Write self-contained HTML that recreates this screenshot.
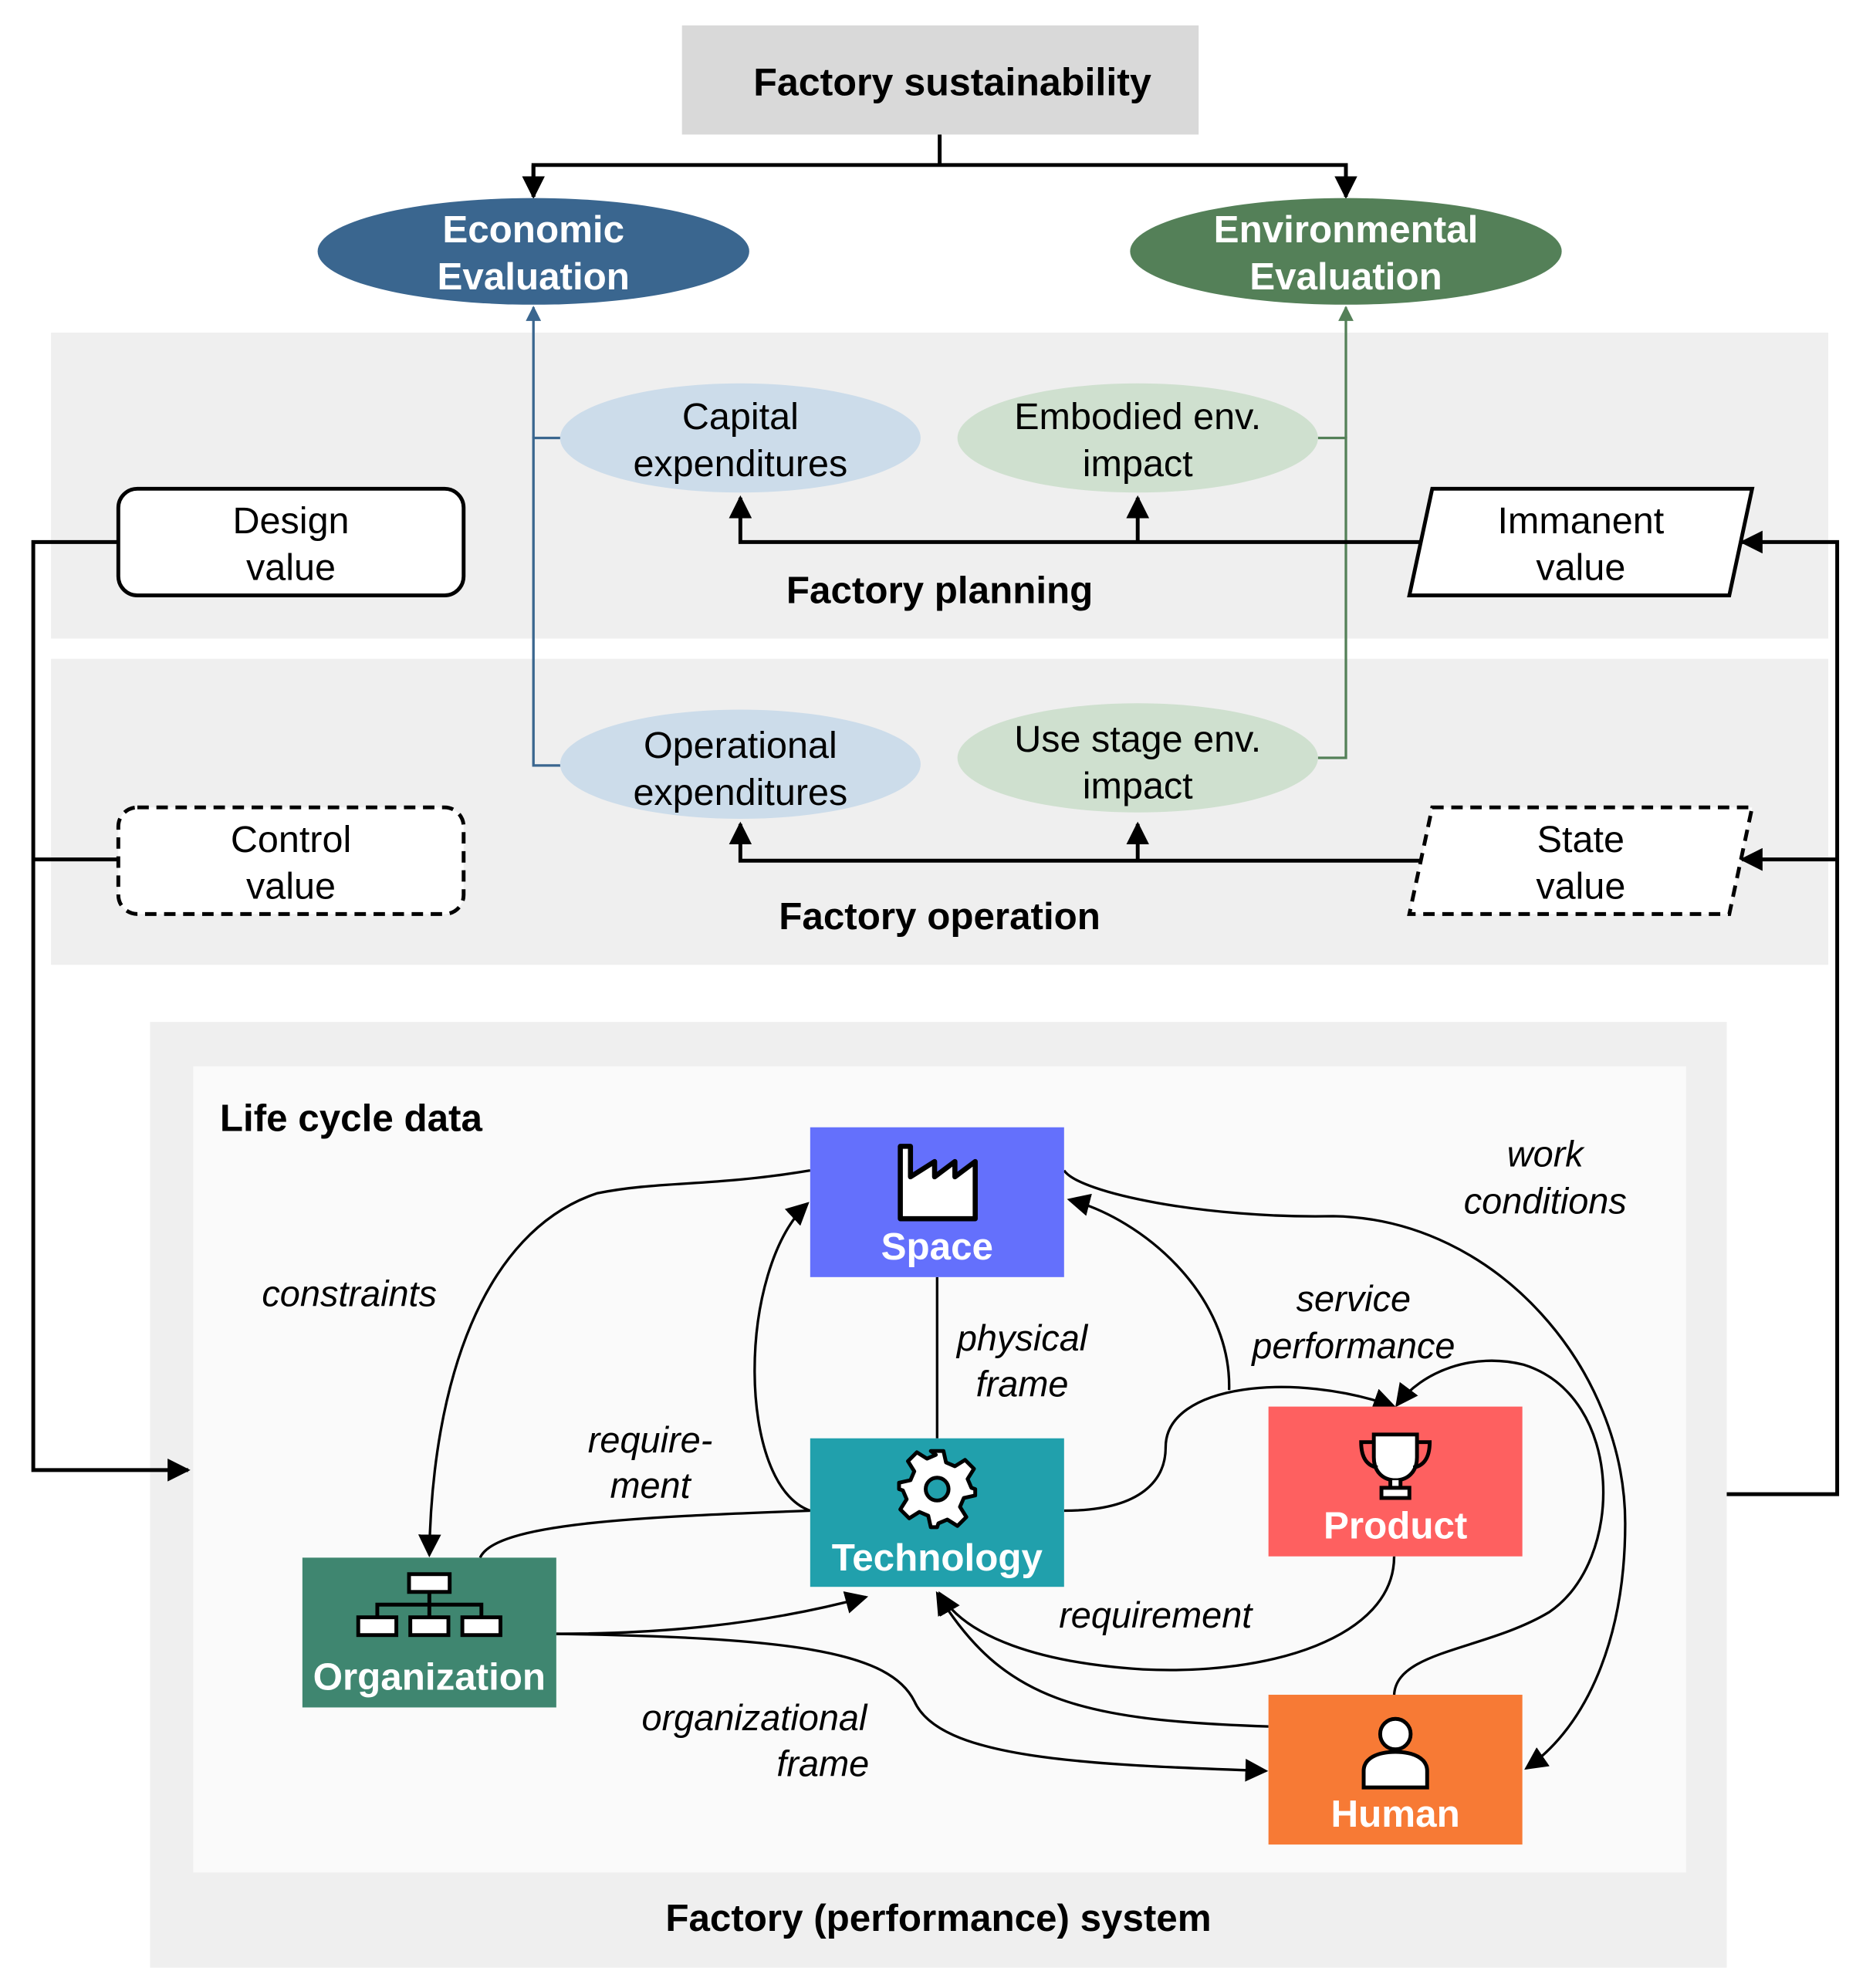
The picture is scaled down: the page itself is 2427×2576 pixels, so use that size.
<!DOCTYPE html>
<html><head><meta charset="utf-8"><style>html,body{margin:0;padding:0;background:#fff}svg{display:block}</style></head>
<body>
<svg width="2427" height="2576" viewBox="0 0 1475 1566" xmlns="http://www.w3.org/2000/svg" font-family="Liberation Sans, sans-serif">
<defs>
<marker id="a" viewBox="0 0 10 10" refX="9" refY="5" markerWidth="6" markerHeight="6" orient="auto-start-reverse"><path d="M0,0L10,5L0,10z" fill="#000"/></marker>
<marker id="ab" viewBox="0 0 10 10" refX="9" refY="5" markerWidth="6" markerHeight="6" orient="auto-start-reverse"><path d="M0,0L10,5L0,10z" fill="#3a668f"/></marker>
<marker id="ag" viewBox="0 0 10 10" refX="9" refY="5" markerWidth="6" markerHeight="6" orient="auto-start-reverse"><path d="M0,0L10,5L0,10z" fill="#548058"/></marker>
<marker id="s" viewBox="0 0 10 10" refX="9" refY="5" markerWidth="9" markerHeight="9" orient="auto-start-reverse"><path d="M0,0L10,5L0,10z" fill="#000"/></marker>
</defs>
<rect width="1475" height="1566" fill="#fff"/>
<rect x="40" y="262" width="1400" height="241" fill="#efefef"/>
<rect x="40" y="519" width="1400" height="241" fill="#efefef"/>
<rect x="118" y="805" width="1242" height="745" fill="#efefef"/>
<rect x="152" y="840" width="1176" height="635" fill="#fafafa"/>
<rect x="537" y="20" width="407" height="86" fill="#d9d9d9"/>
<text x="750" y="75" font-size="30.5" font-weight="bold" text-anchor="middle">Factory sustainability</text>
<path d="M740,106V130H420V155M740,130H1060V155" fill="none" stroke="#000" stroke-width="3" marker-end="url(#a)"/>
<path d="M420,130V155" stroke="#000" stroke-width="3" marker-end="url(#a)"/>
<ellipse cx="420" cy="198" rx="170" ry="42" fill="#3a668f"/>
<ellipse cx="1060" cy="198" rx="170" ry="42" fill="#548058"/>
<g fill="#fff" font-size="30" font-weight="bold" text-anchor="middle">
<text x="420" y="191">Economic</text><text x="420" y="228">Evaluation</text>
<text x="1060" y="191">Environmental</text><text x="1060" y="228">Evaluation</text>
</g>
<path d="M442,345H420V603H442" fill="none" stroke="#3a668f" stroke-width="2"/>
<path d="M420,345V242" stroke="#3a668f" stroke-width="2" marker-end="url(#ab)"/>
<path d="M1038,345H1060V597H1038" fill="none" stroke="#548058" stroke-width="2"/>
<path d="M1060,345V242" stroke="#548058" stroke-width="2" marker-end="url(#ag)"/>
<ellipse cx="583" cy="345" rx="142" ry="43" fill="#ccdcea"/>
<ellipse cx="896" cy="345" rx="142" ry="43" fill="#cfe0cf"/>
<ellipse cx="583" cy="602" rx="142" ry="43" fill="#ccdcea"/>
<ellipse cx="896" cy="597" rx="142" ry="43" fill="#cfe0cf"/>
<g font-size="29.5" text-anchor="middle">
<text x="583" y="338">Capital</text><text x="583" y="375">expenditures</text>
<text x="896" y="338">Embodied env.</text><text x="896" y="375">impact</text>
<text x="583" y="597">Operational</text><text x="583" y="634">expenditures</text>
<text x="896" y="592">Use stage env.</text><text x="896" y="629">impact</text>
</g>
<rect x="93" y="385" width="272" height="84" rx="15" fill="#fff" stroke="#000" stroke-width="3"/>
<rect x="93" y="636" width="272" height="84" rx="15" fill="#fff" stroke="#000" stroke-width="3" stroke-dasharray="9,6"/>
<polygon points="1128,385 1380,385 1362,469 1110,469" fill="#fff" stroke="#000" stroke-width="3"/>
<polygon points="1128,636 1380,636 1362,720 1110,720" fill="#fff" stroke="#000" stroke-width="3" stroke-dasharray="9,6"/>
<g font-size="29.5" text-anchor="middle">
<text x="229" y="420">Design</text><text x="229" y="457">value</text>
<text x="229" y="671">Control</text><text x="229" y="708">value</text>
<text x="1245" y="420">Immanent</text><text x="1245" y="457">value</text>
<text x="1245" y="671">State</text><text x="1245" y="708">value</text>
</g>
<g fill="none" stroke="#000" stroke-width="3">
<path d="M1118,427H583V392" marker-end="url(#a)"/>
<path d="M896,427V392" marker-end="url(#a)"/>
<path d="M1118,678H583V649" marker-end="url(#a)"/>
<path d="M896,678V649" marker-end="url(#a)"/>
<path d="M93,427H26V1158H148" marker-end="url(#a)"/>
<path d="M93,677H26"/>
<path d="M1360,1177H1447V427H1372" marker-end="url(#a)"/>
<path d="M1447,677H1372" marker-end="url(#a)"/>
</g>
<g font-size="30" font-weight="bold" text-anchor="middle">
<text x="740" y="475">Factory planning</text>
<text x="740" y="732">Factory operation</text>
<text x="739" y="1521">Factory (performance) system</text>
<text x="173" y="891" text-anchor="start">Life cycle data</text>
</g>
<g fill="none" stroke="#000" stroke-width="2">
<path d="M738,1006V1133"/>
<path d="M638,922C560,935 520,930 470,940C380,970 340,1090 338,1225" marker-end="url(#s)"/>
<path d="M638,1190C580,1170 580,1000 636,948" marker-end="url(#s)"/>
<path d="M378,1227C390,1200 500,1195 638,1190"/>
<path d="M438,1287C520,1287 600,1280 682,1258" marker-end="url(#s)"/>
<path d="M438,1287C620,1290 700,1300 720,1340C740,1385 850,1390 997,1395" marker-end="url(#s)"/>
<path d="M968,1095C970,1020 900,960 842,945" marker-end="url(#s)"/>
<path d="M838,1190C900,1190 918,1165 918,1140C918,1090 1020,1080 1098,1108" marker-end="url(#s)"/>
<path d="M838,922C850,940 950,960 1050,958C1180,960 1280,1080 1280,1200C1280,1290 1250,1360 1202,1393" marker-end="url(#s)"/>
<path d="M1098,1335C1100,1300 1170,1300 1220,1270C1280,1230 1280,1100 1200,1075C1160,1065 1120,1080 1100,1107" marker-end="url(#s)"/>
<path d="M1098,1226C1098,1290 1000,1320 900,1315C820,1310 760,1290 740,1255" marker-end="url(#s)"/>
<path d="M999,1360C850,1355 790,1340 738,1255" marker-end="url(#s)"/>
</g>
<g font-size="28.5" font-style="italic" text-anchor="middle">
<text x="275" y="1029">constraints</text>
<text x="805" y="1064">physical</text><text x="805" y="1100">frame</text>
<text x="512" y="1144">require-</text><text x="512" y="1180">ment</text>
<text x="1217" y="919">work</text><text x="1217" y="956">conditions</text>
<text x="1066" y="1033">service</text><text x="1066" y="1070">performance</text>
<text x="910" y="1282">requirement</text>
<text x="594" y="1363">organizational</text><text x="648" y="1399">frame</text>
</g>
<rect x="638" y="888" width="200" height="118" fill="#6470fc"/>
<rect x="638" y="1133" width="200" height="117" fill="#21a0ac"/>
<rect x="999" y="1108" width="200" height="118" fill="#fe6060"/>
<rect x="999" y="1335" width="200" height="118" fill="#f77a35"/>
<rect x="238" y="1227" width="200" height="118" fill="#3f8670"/>
<g fill="#fff" font-size="30" font-weight="bold" text-anchor="middle">
<text x="738" y="992">Space</text>
<text x="738" y="1237">Technology</text>
<text x="1099" y="1212">Product</text>
<text x="1099" y="1439">Human</text>
<text x="338" y="1331">Organization</text>
</g>
<path d="M709,960V903H717V927L736,915V927L752,915V927L768,915V960Z" fill="#fff" stroke="#000" stroke-width="4" stroke-linejoin="round"/>
<g transform="translate(738,1173)" stroke="#000" stroke-width="3" fill="#fff" stroke-linejoin="round">
<path d="M-5,-30H5L7,-21L14,-18L22,-23L29,-16L24,-8L27,-1L30,0V0L30,5L21,7L18,14L23,22L16,29L8,24L1,27L0,30H-5L-7,21L-14,18L-22,23L-29,16L-24,8L-27,1L-30,0V-5L-21,-7L-18,-14L-23,-22L-16,-29L-8,-24L-1,-27Z"/>
<circle r="9" fill="#21a0ac"/>
</g>
<g fill="#fff" stroke="#000" stroke-width="3">
<path d="M1082,1130H1116V1148C1116,1160 1108,1166 1099,1166C1090,1166 1082,1160 1082,1148Z"/>
<path d="M1082,1136H1072C1072,1150 1078,1155 1085,1156M1116,1136H1126C1126,1150 1120,1155 1113,1156" fill="none"/>
<path d="M1095,1166V1172H1103V1166M1088,1180H1110V1172H1088Z"/>
<circle cx="1099" cy="1366" r="12"/>
<path d="M1074,1408V1395C1074,1385 1085,1380 1099,1380C1113,1380 1124,1385 1124,1395V1408Z"/>
<rect x="322" y="1240" width="32" height="14"/>
<path d="M338,1254V1264M297,1274V1264H379V1274M338,1264V1274" fill="none"/>
<rect x="282" y="1274" width="30" height="14"/><rect x="323" y="1274" width="30" height="14"/><rect x="364" y="1274" width="30" height="14"/>
</g>
</svg>
</body></html>
